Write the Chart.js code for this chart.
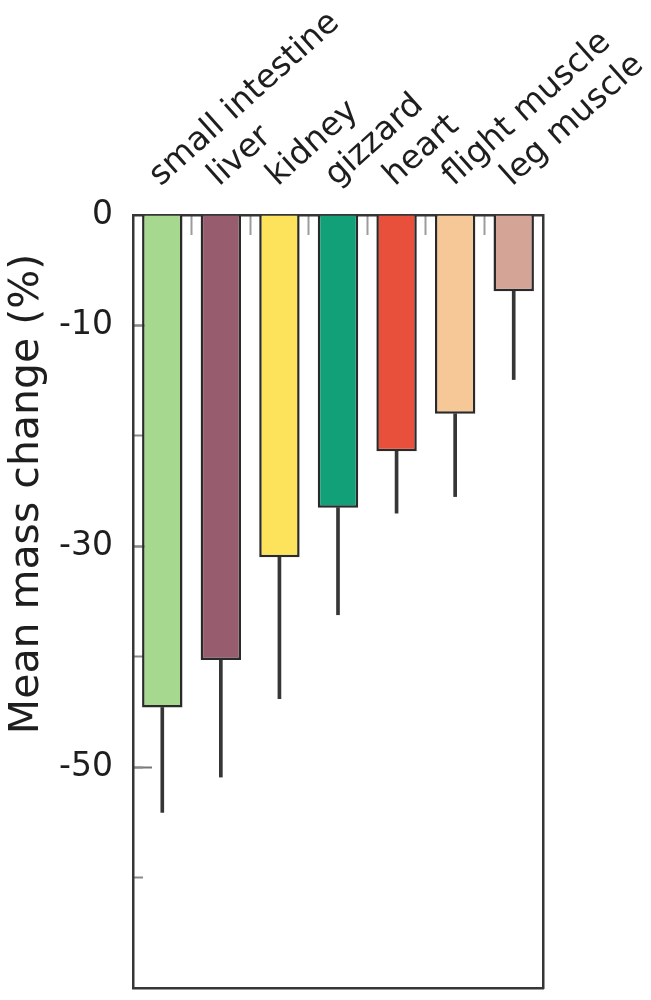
<!DOCTYPE html>
<html>
<head>
<meta charset="utf-8">
<script src="https://cdn.jsdelivr.net/npm/chart.js@4.4.1/dist/chart.umd.min.js"></script>
<style>
  body { margin: 0; background: #fff; }
</style>
</head>
<body>
<canvas id="grafico" width="651" height="1000"></canvas>
<script>
const organs = ['small intestine', 'liver', 'kidney', 'gizzard', 'heart', 'flight muscle', 'leg muscle'];
const massChange = [-44.6, -40.3, -31.0, -26.5, -21.4, -18.0, -6.9];
const errorSize = [9.5, 10.6, 12.8, 9.7, 5.6, 7.5, 8.0];
const barColors = ['#a7d88f', '#975d6f', '#fde25c', '#12a078', '#e9503b', '#f6c797', '#d4a496'];
const yLabelsShown = [0, -10, -30, -50];

const fontFamily = '"DejaVu Sans", "Liberation Sans", Arial, sans-serif';
const frame = '#363636';

// one-sided error bars as thin floating bars below each bar
const errorBars = massChange.map((v, i) => [v, v - errorSize[i]]);

const noTicks = { display: false };
const noGrid = { display: false, drawTicks: false };

const myChart = new Chart(document.getElementById('grafico'), {
  type: 'bar',
  data: {
    labels: organs,
    datasets: [
      {
        data: massChange,
        backgroundColor: barColors,
        borderColor: '#2a2a2a',
        borderWidth: 2.5,
        barPercentage: 0.69,
        categoryPercentage: 1,
        grouped: false,
        order: 1
      },
      {
        data: errorBars,
        backgroundColor: frame,
        borderWidth: 0,
        barThickness: 3,
        grouped: false,
        order: 2
      }
    ]
  },
  options: {
    responsive: false,
    animation: false,
    layout: { padding: { top: 0, left: 0, right: 0, bottom: 12 } },
    plugins: {
      legend: { display: false },
      tooltip: { enabled: false }
    },
    scales: {
      x: {
        position: 'top',
        offset: true,
        grid: {
          offset: true,
          drawOnChartArea: false,
          tickLength: -20,
          tickWidth: 2,
          tickColor: (c) => (c.index === 0 || c.index === undefined) ? 'rgba(0,0,0,0)' : '#9c9c9c'
        },
        border: { display: true, color: frame, width: 2.5 },
        ticks: {
          autoSkip: false,
          minRotation: 42,
          maxRotation: 42,
          padding: 40,
          labelOffset: 19,
          color: '#1e1e1e',
          font: { family: fontFamily, size: 33 }
        },
        afterFit: (s) => { s.height = 215; s.paddingLeft = 0; s.paddingRight = 0; }
      },
      xb: {
        type: 'linear',
        position: 'bottom',
        min: 0,
        max: 1,
        ticks: noTicks,
        grid: noGrid,
        border: { display: true, color: frame, width: 2.5 },
        afterFit: (s) => { s.height = 0; s.paddingLeft = 0; s.paddingRight = 0; }
      },
      y: {
        position: 'left',
        weight: 1,
        min: -70,
        max: 0,
        grid: {
          drawOnChartArea: false,
          tickLength: -19,
          tickWidth: 2,
          tickColor: (c) => (c.tick && yLabelsShown.includes(c.tick.value) && c.tick.value !== 0) ? '#777' : 'rgba(0,0,0,0)'
        },
        border: { display: true, color: frame, width: 2.5 },
        ticks: {
          stepSize: 10,
          autoSkip: false,
          padding: 39,
          color: '#1e1e1e',
          font: { family: fontFamily, size: 33 },
          callback: (value) => yLabelsShown.includes(value) ? String(value) : ''
        },
        afterFit: (s) => { s.width = 83; s.paddingTop = 0; s.paddingBottom = 0; }
      },
      y2: {
        position: 'left',
        weight: 0,
        min: -70,
        max: 0,
        ticks: { display: false, stepSize: 10 },
        grid: {
          drawOnChartArea: false,
          tickLength: -10,
          tickWidth: 2,
          tickColor: (c) => (c.tick && c.tick.value !== 0 && c.tick.value !== -70) ? '#888' : 'rgba(0,0,0,0)'
        },
        border: { display: false },
        afterFit: (s) => { s.width = 0; s.paddingTop = 0; s.paddingBottom = 0; }
      },
      yt: {
        type: 'linear',
        position: 'left',
        fullSize: true,
        weight: 2,
        min: 0,
        max: 1,
        ticks: noTicks,
        grid: noGrid,
        border: { display: false },
        title: {
          display: true,
          text: 'Mean mass change (%)',
          color: '#1e1e1e',
          font: { family: fontFamily, size: 41 },
          padding: { top: 3, bottom: 0 }
        },
        afterFit: (s) => { s.width = 50; s.paddingTop = 0; s.paddingBottom = 0; }
      },
      yr: {
        type: 'linear',
        position: 'right',
        min: 0,
        max: 1,
        ticks: noTicks,
        grid: noGrid,
        border: { display: true, color: frame, width: 2.5 },
        afterFit: (s) => { s.width = 108; s.paddingTop = 0; s.paddingBottom = 0; }
      }
    }
  }
});
</script>
</body>
</html>
